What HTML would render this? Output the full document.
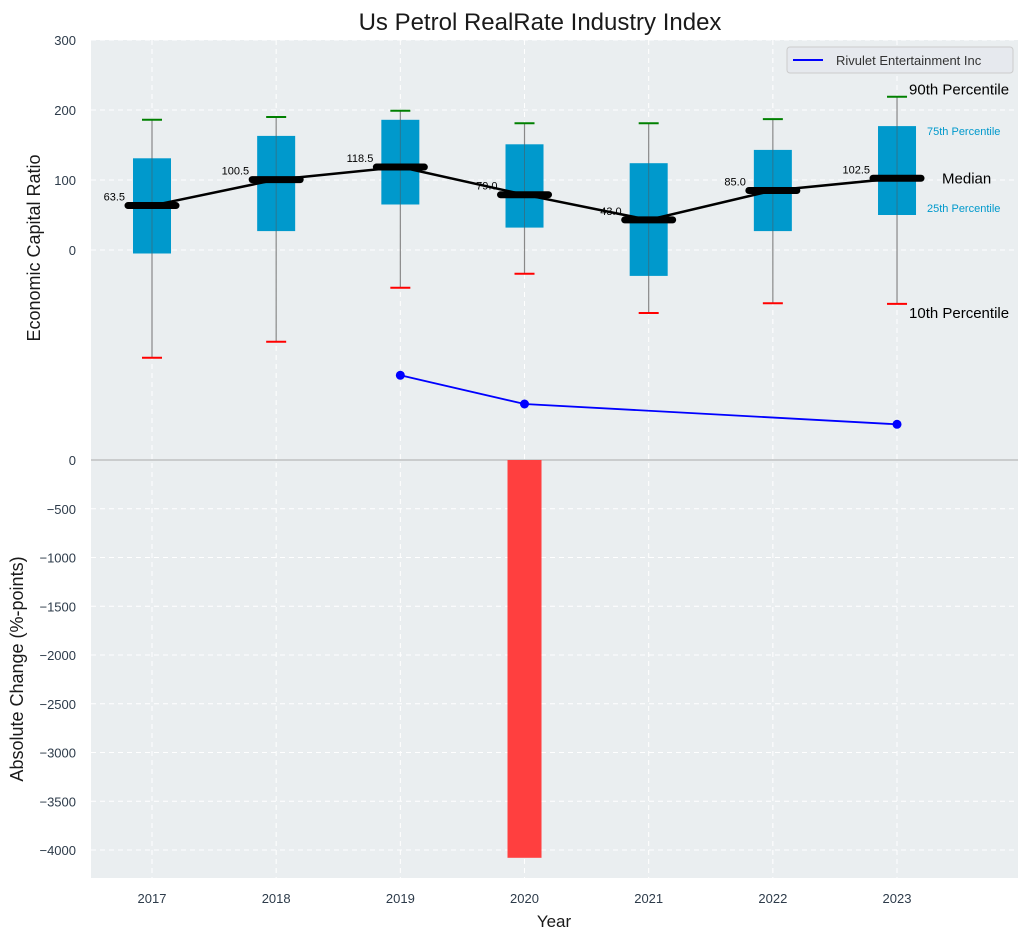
<!DOCTYPE html>
<html><head><meta charset="utf-8"><style>
body{margin:0;background:#fff;font-family:"Liberation Sans",sans-serif}
svg text{font-family:"Liberation Sans",sans-serif}
</style></head><body>
<svg id="c" width="1030" height="940" xmlns="http://www.w3.org/2000/svg"></svg>
<script>
const years=[2017,2018,2019,2020,2021,2022,2023];
const p10=[-154,-131,-54,-34,-90,-76,-77];
const p25=[-5,27,65,32,-37,27,50];
const med=[63.5,100.5,118.5,79.0,43.0,85.0,102.5];
const p75=[131,163,186,151,124,143,177];
const p90=[186,190,199,181,181,187,219];
const compYears=[2019,2020,2023];
const compVals=[-179,-220,-249];
const chgYears=[2020];
const chgVals=[-4080];
const topTicks=[300,200,100,0];
const botTicks=[0,-500,-1000,-1500,-2000,-2500,-3000,-3500,-4000];

const L=91,R=1018,T=40,B=878;
const x=y=>152+(y-2017)*124.17;
const yt=v=>250-v*0.7;
const yb=v=>460-v*0.0975;
const fmt=v=>String(v).replace('-','\u2212');
const svg=document.getElementById('c');
const NS='http://www.w3.org/2000/svg';
function el(t,a,txt){const e=document.createElementNS(NS,t);for(const k in a)e.setAttribute(k,a[k]);if(txt!==undefined)e.textContent=txt;svg.appendChild(e);return e;}

let e=el('rect',{x:L,y:T,width:R-L,height:B-T,fill:'#eaeef0'});

years.forEach(yr=>{el('line',{x1:x(yr),x2:x(yr),y1:T,y2:B,stroke:'#fff','stroke-dasharray':'5,4','stroke-width':1});});
topTicks.forEach(v=>{el('line',{x1:L,x2:R,y1:yt(v),y2:yt(v),stroke:'#fff','stroke-dasharray':'5,4'});
 e=el('text',{x:76,y:yt(v)+5,'text-anchor':'end','font-size':13,fill:'#2d3b4a'},fmt(v));
 });
botTicks.forEach(v=>{el('line',{x1:L,x2:R,y1:yb(v),y2:yb(v),stroke:'#fff','stroke-dasharray':'5,4'});
 e=el('text',{x:76,y:yb(v)+5,'text-anchor':'end','font-size':13,fill:'#2d3b4a'},fmt(v));
 });
el('line',{x1:L,x2:R,y1:yb(0),y2:yb(0),stroke:'#aaa','stroke-width':1});
chgYears.forEach((yr,i)=>{e=el('rect',{x:x(yr)-17,y:yb(0),width:34,height:yb(chgVals[i])-yb(0),fill:'#ff3f3f'});
 });
years.forEach((yr,i)=>{const cx=x(yr);
 el('line',{x1:cx,x2:cx,y1:yt(p90[i]),y2:yt(p10[i]),stroke:'#888','stroke-width':1.2});
 e=el('rect',{x:cx-19,y:yt(p75[i]),width:38,height:yt(p25[i])-yt(p75[i]),fill:'#0099cc'});
 
 el('line',{x1:cx,x2:cx,y1:yt(p75[i]),y2:yt(p25[i]),stroke:'#555','stroke-width':1,opacity:0.5});
 e=el('line',{x1:cx-10,x2:cx+10,y1:yt(p90[i]),y2:yt(p90[i]),stroke:'green','stroke-width':2});
 
 e=el('line',{x1:cx-10,x2:cx+10,y1:yt(p10[i]),y2:yt(p10[i]),stroke:'red','stroke-width':2});
 
});
e=el('polyline',{points:years.map((yr,i)=>x(yr)+','+yt(med[i])).join(' '),fill:'none',stroke:'#000','stroke-width':2.5});

years.forEach((yr,i)=>{const cx=x(yr);
 e=el('line',{x1:cx-24,x2:cx+24,y1:yt(med[i]),y2:yt(med[i]),stroke:'#000','stroke-width':7,'stroke-linecap':'round'});
 
 e=el('text',{x:cx-27,y:yt(med[i])-5,'text-anchor':'end','font-size':11,fill:'#000'},med[i].toFixed(1));
 
});
e=el('polyline',{points:compYears.map((yr,i)=>x(yr)+','+yt(compVals[i])).join(' '),fill:'none',stroke:'#0000ff','stroke-width':1.8});

compYears.forEach((yr,i)=>{e=el('circle',{cx:x(yr),cy:yt(compVals[i]),r:4.5,fill:'#0000ff'});
 });
const ax=x(2023);
[['90th Percentile',ax+12,yt(p90[6])-2,15,'#000'],['75th Percentile',ax+30,yt(p75[6])+9,11,'#0099cc'],['Median',ax+45,yt(med[6])+5,15,'#000'],['25th Percentile',ax+30,yt(p25[6])-3,11,'#0099cc'],['10th Percentile',ax+12,yt(p10[6])+14,15,'#000']].forEach(a=>{
 e=el('text',{x:a[1],y:a[2],'font-size':a[3],fill:a[4]},a[0]);
 });
years.forEach(yr=>{e=el('text',{x:x(yr),y:903,'text-anchor':'middle','font-size':13,fill:'#2d3b4a'},yr);
 });
e=el('text',{x:540,y:30,'text-anchor':'middle','font-size':24,fill:'#1a1a1a'},'Us Petrol RealRate Industry Index');

e=el('text',{x:554,y:927,'text-anchor':'middle','font-size':17,fill:'#1a1a1a'},'Year');

e=el('text',{x:0,y:0,'text-anchor':'middle','font-size':18,fill:'#1a1a1a',transform:'translate(40,248) rotate(-90)'},'Economic Capital Ratio');

e=el('text',{x:0,y:0,'text-anchor':'middle','font-size':18,fill:'#1a1a1a',transform:'translate(23,669) rotate(-90)'},'Absolute Change (%-points)');

e=el('rect',{x:787,y:47,width:226,height:26,rx:3,fill:'#e6e9ee',stroke:'#ccc'});

el('line',{x1:793,x2:823,y1:60,y2:60,stroke:'#0000ff','stroke-width':2});
e=el('text',{x:836,y:65,'font-size':13,fill:'#333'},'Rivulet Entertainment Inc');

</script>
</body></html>
